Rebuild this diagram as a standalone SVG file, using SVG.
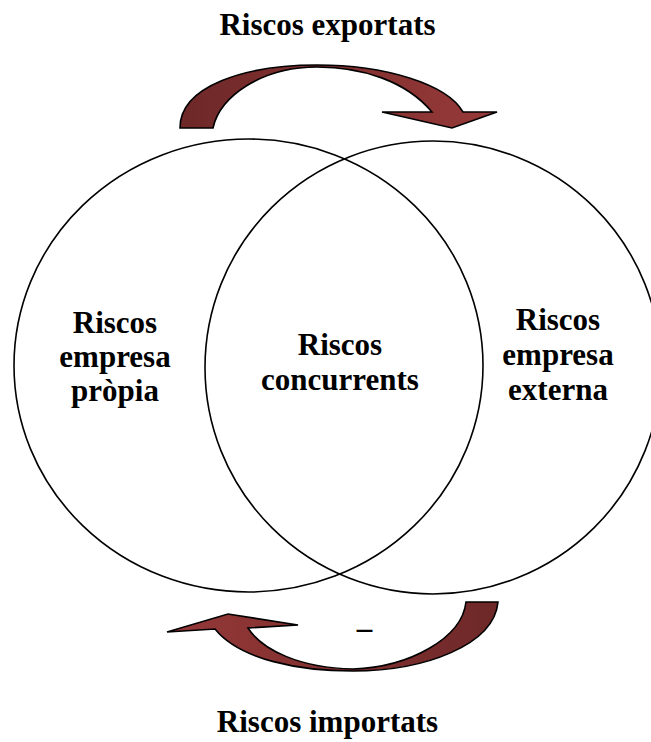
<svg xmlns="http://www.w3.org/2000/svg" width="651" height="742" viewBox="0 0 651 742">
  <style>
    .lbl { font-family: "Liberation Serif", "Times New Roman", serif; font-weight: bold; font-size: 31px; fill: #000; text-anchor: middle; }
    .circ { fill: none; stroke: #000; stroke-width: 1.6; }
    .arr { stroke: #000; stroke-width: 1.6; stroke-linejoin: miter; }
  </style>
  <defs>
    <linearGradient id="gTop" x1="180" y1="0" x2="497" y2="0" gradientUnits="userSpaceOnUse">
      <stop offset="0" stop-color="#6e2828"/>
      <stop offset="1" stop-color="#973939"/>
    </linearGradient>
    <linearGradient id="gBot" x1="167" y1="0" x2="498" y2="0" gradientUnits="userSpaceOnUse">
      <stop offset="0" stop-color="#953838"/>
      <stop offset="1" stop-color="#6e2828"/>
    </linearGradient>
  </defs>
  <rect width="651" height="742" fill="#fff"/>

  <g id="node-left">
    <ellipse class="circ" cx="248.5" cy="365.5" rx="234.5" ry="226.5"/>
    <text class="lbl" x="115" y="333">Riscos</text>
    <text class="lbl" x="115" y="367">empresa</text>
    <text class="lbl" x="115" y="401">pròpia</text>
  </g>

  <g id="node-right">
    <ellipse class="circ" cx="433" cy="367.5" rx="228" ry="226.5"/>
    <text class="lbl" x="558" y="330">Riscos</text>
    <text class="lbl" x="558" y="365">empresa</text>
    <text class="lbl" x="558" y="400">externa</text>
  </g>

  <g id="node-center">
    <text class="lbl" x="340" y="355">Riscos</text>
    <text class="lbl" x="340" y="390">concurrents</text>
  </g>

  <g id="connectors">
    <g id="arrow-exportats">
      <path class="arr" fill="url(#gTop)" d="M180,128 C180,86 245,65 317,65 C385,65 447,84 463,112 L497,112 L452,128 L382,112 L432,112 C406,81 362,67 317,67 C262,67 220,96 213,128 Z"/>
      <text class="lbl" x="327.5" y="35">Riscos exportats</text>
    </g>
    <g id="arrow-importats">
      <path class="arr" fill="url(#gBot)" d="M498,602 L466,602 C462,638 410,667 353,669 C300,668 262,650 248,628 L298,625 L228,614 L167,632 L215,629 C240,660 300,671 353,671 C425,671 494,645 498,602 Z"/>
      <text class="lbl" x="364.5" y="638">–</text>
      <text class="lbl" x="327.5" y="732">Riscos importats</text>
    </g>
  </g>
</svg>
